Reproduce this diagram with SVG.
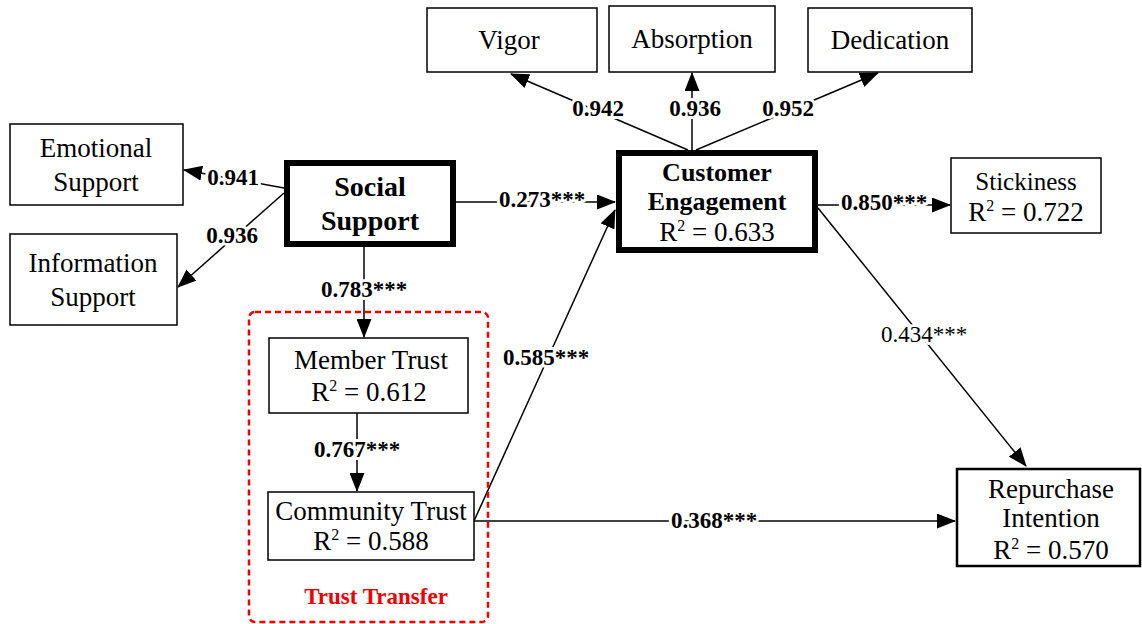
<svg xmlns="http://www.w3.org/2000/svg" width="1142" height="624" viewBox="0 0 1142 624">
<defs>
<marker id="ah" markerUnits="userSpaceOnUse" markerWidth="19" markerHeight="15" refX="18" refY="7.5" orient="auto">
<path d="M0,0 L19,7.5 L0,15 Z" fill="#000"/>
</marker>
<style>
.box{fill:#fff;stroke:#000;stroke-width:1.5}
.thick{fill:#fff;stroke:#000;stroke-width:6}
.t{font-family:"Liberation Serif","Times New Roman",serif;font-size:27px;fill:#000;text-anchor:middle}
.b{font-weight:bold}
.sup{font-size:16px}
.ln{stroke:#000;stroke-width:1.5;fill:none;marker-end:url(#ah)}
.lb{font-family:"Liberation Serif","Times New Roman",serif;font-size:23px;font-weight:bold;fill:#000;text-anchor:middle;dominant-baseline:middle;stroke:#fff;stroke-width:6;paint-order:stroke;stroke-linejoin:round}
.st{font-weight:normal}
</style>
</defs>
<rect width="1142" height="624" fill="#fff"/>
<g id="connectors">
<line class="ln" x1="284" y1="188" x2="184" y2="170"/>
<line class="ln" x1="284" y1="193" x2="178" y2="287"/>
<line class="ln" x1="456" y1="202" x2="615" y2="202"/>
<line class="ln" x1="364" y1="247" x2="364" y2="337"/>
<line class="ln" x1="357" y1="413" x2="357" y2="491"/>
<line class="ln" x1="474" y1="521" x2="615" y2="210"/>
<line class="ln" x1="474" y1="521" x2="955" y2="521"/>
<line class="ln" x1="688" y1="150" x2="511" y2="74"/>
<line class="ln" x1="692" y1="150" x2="692" y2="73"/>
<line class="ln" x1="696" y1="150" x2="878" y2="73"/>
<line class="ln" x1="818" y1="205" x2="950" y2="205"/>
<line class="ln" x1="818" y1="208" x2="1026" y2="466"/>
<text class="lb" x="233" y="180">0.941</text>
<text class="lb" x="232" y="238">0.936</text>
<text class="lb" x="542" y="202">0.273***</text>
<text class="lb" x="364" y="292">0.783***</text>
<text class="lb" x="357" y="452">0.767***</text>
<text class="lb" x="546" y="360">0.585***</text>
<text class="lb" x="714" y="523">0.368***</text>
<text class="lb" x="598" y="111">0.942</text>
<text class="lb" x="695" y="111">0.936</text>
<text class="lb" x="788" y="111">0.952</text>
<text class="lb" x="884" y="205">0.850***</text>
<text class="lb st" x="924" y="337">0.434***</text>
</g>
<g id="trust-transfer">
<rect x="249" y="312" width="239" height="310" rx="6" fill="none" stroke="#e00" stroke-width="2.5" stroke-dasharray="6,4"/>
<text class="t b" x="376" y="604" style="font-size:23px;fill:#e00">Trust Transfer</text>
</g>
<g id="emotional-support">
<rect class="box" x="10" y="124" width="173" height="81"/>
<text class="t" x="96" y="157">Emotional</text>
<text class="t" x="96" y="191">Support</text>
</g>
<g id="information-support">
<rect class="box" x="10" y="234" width="167" height="91"/>
<text class="t" x="93" y="272">Information</text>
<text class="t" x="93" y="306">Support</text>
</g>
<g id="social-support">
<rect class="thick" x="287" y="163" width="166" height="81"/>
<text class="t b" x="370" y="196" style="font-size:28px">Social</text>
<text class="t b" x="370" y="230" style="font-size:28px">Support</text>
</g>
<g id="member-trust">
<rect class="box" x="269" y="338" width="199" height="75"/>
<text class="t" x="371" y="369">Member Trust</text>
<text class="t" x="369" y="401">R<tspan class="sup" dy="-10">2</tspan><tspan dy="10"> = 0.612</tspan></text>
</g>
<g id="community-trust">
<rect class="box" x="268" y="492" width="206" height="68"/>
<text class="t" x="371" y="520">Community Trust</text>
<text class="t" x="371" y="550">R<tspan class="sup" dy="-10">2</tspan><tspan dy="10"> = 0.588</tspan></text>
</g>
<g id="vigor">
<rect class="box" x="427" y="8" width="170" height="64"/>
<text class="t" x="509" y="49">Vigor</text>
</g>
<g id="absorption">
<rect class="box" x="609" y="6" width="166" height="66"/>
<text class="t" x="692" y="48">Absorption</text>
</g>
<g id="dedication">
<rect class="box" x="808" y="8" width="164" height="64"/>
<text class="t" x="890" y="49">Dedication</text>
</g>
<g id="customer-engagement">
<rect class="thick" x="619" y="153" width="196" height="97"/>
<text class="t b" x="717" y="181" style="font-size:26px">Customer</text>
<text class="t b" x="717" y="210" style="font-size:26px">Engagement</text>
<text class="t" x="717" y="241">R<tspan class="sup" dy="-10">2</tspan><tspan dy="10"> = 0.633</tspan></text>
</g>
<g id="stickiness">
<rect class="box" x="951" y="158" width="150" height="75"/>
<text class="t" x="1026" y="190" style="font-size:25px">Stickiness</text>
<text class="t" x="1026" y="221">R<tspan class="sup" dy="-10">2</tspan><tspan dy="10"> = 0.722</tspan></text>
</g>
<g id="repurchase-intention">
<rect x="957" y="469" width="183" height="97" fill="#fff" stroke="#000" stroke-width="2.5"/>
<text class="t" x="1051" y="498">Repurchase</text>
<text class="t" x="1051" y="527">Intention</text>
<text class="t" x="1051" y="559">R<tspan class="sup" dy="-10">2</tspan><tspan dy="10"> = 0.570</tspan></text>
</g>
</svg>
